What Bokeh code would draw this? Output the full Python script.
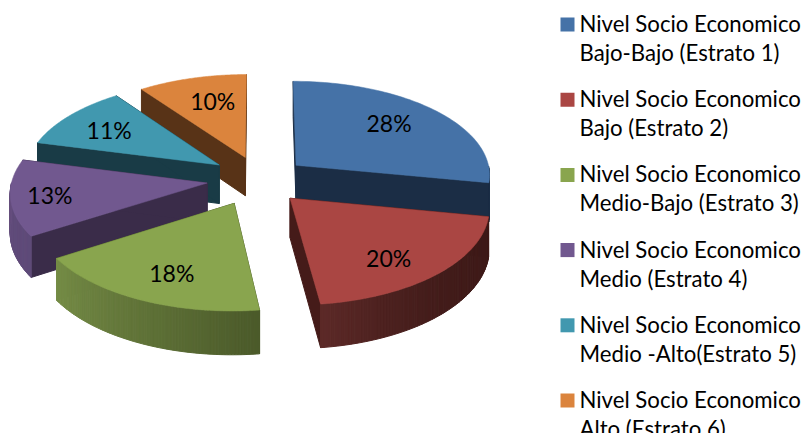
import numpy as np
from bokeh.plotting import figure
from bokeh.core.properties import value
from bokeh.embed import file_html
from bokeh.resources import INLINE

# Share of households per socio-economic stratum
categories = [
    ["Nivel Socio Economico", "Bajo-Bajo (Estrato 1)"],
    ["Nivel Socio Economico", "Bajo (Estrato 2)"],
    ["Nivel Socio Economico", "Medio-Bajo (Estrato 3)"],
    ["Nivel Socio Economico", "Medio (Estrato 4)"],
    ["Nivel Socio Economico", "Medio -Alto(Estrato 5)"],
    ["Nivel Socio Economico", "Alto (Estrato 6)"],
]
shares = [28, 20, 18, 13, 11, 10]
top_colors = ["#4572A7", "#AA4643", "#89A54E", "#71588F", "#4198AF", "#DB843D"]
cut_colors = ["#1B2D45", "#451B19", "#4B5A2B", "#3A2C49", "#193B46", "#583317"]
# Shading of the rim, from the slice's first angle to its last
rim_colors = [
    ("#1B2D45", "#1B2D45"),
    ("#3E1A18", "#5C2927"),
    ("#4B5A2A", "#758C46"),
    ("#5E4A78", "#66507F"),
    ("#193B46", "#193B46"),
    ("#583317", "#583317"),
]
RIM_EASE = [1, 2.5, 1, 1, 1, 1]
FONT = "Lato"

# Projection of the tilted disc
CX, CY = 255.0, 178.0
RX, RY = 195.0, 94.0
PERSP = 0.09
THICK = 39.0
EXPLODE = 0.24
DRAW_ORDER = [5, 4, 0, 3, 1, 2]
LABEL_RADIUS = 0.63
# Per-slice fine placement, in pixels
SLICE_DX = [5, 2, -1, -2, 2, 4]
SLICE_DY = [1, 3, 4, 1, -1, 0]
LABEL_DX = [4, 8, -5, -34, -14, 2]
LABEL_DY = [-7, 13, 11, 3, -3, -5]


def project(u, v, z=0.0):
    u, v = np.asarray(u, float), np.asarray(v, float)
    s = 1.0 / (1.0 + PERSP * v)
    return CX + RX * u * s, CY - RY * v * s + THICK * z * s


def hex_mix(a, b, t):
    ca = np.array([int(a[i:i + 2], 16) for i in (1, 3, 5)], float)
    cb = np.array([int(b[i:i + 2], 16) for i in (1, 3, 5)], float)
    c = ca + (cb - ca) * t
    return "#%02x%02x%02x" % tuple(int(round(x)) for x in c)


p = figure(width=807, height=433, x_range=(0, 807), y_range=(433, 0),
           output_backend="svg", toolbar_location=None, min_border=0,
           outline_line_color=None, background_fill_color="white")
p.xaxis.visible = False
p.yaxis.visible = False
p.xgrid.visible = False
p.ygrid.visible = False

edges = np.concatenate([[0], np.cumsum(shares)]) / float(sum(shares)) * 2 * np.pi
label_x, label_y, label_text = [], [], []

for i in DRAW_ORDER:
    a0, a1 = edges[i], edges[i + 1]
    mid = (a0 + a1) / 2
    ou, ov = EXPLODE * np.sin(mid), EXPLODE * np.cos(mid)
    angles = np.linspace(a0, a1, 80)
    au, av = ou + np.sin(angles), ov + np.cos(angles)
    dx, dy = SLICE_DX[i], SLICE_DY[i]

    # Straight cut faces running from the hub to each end of the arc
    for a in (a0, a1):
        eu, ev = ou + np.sin(a), ov + np.cos(a)
        us, vs = np.array([ou, eu, eu, ou]), np.array([ov, ev, ev, ov])
        x, y = project(us, vs, np.array([0, 0, 1, 1]))
        p.patch(list(x + dx), list(y + dy), fill_color=cut_colors[i], line_color=cut_colors[i], line_width=1)

    # Rim: short strips along the part of the arc that faces the viewer
    for k in range(len(angles) - 1):
        ta, tb = angles[k], angles[k + 1]
        if np.cos((ta + tb) / 2) >= 0:
            continue
        us = ou + np.sin([ta, tb, tb, ta])
        vs = ov + np.cos([ta, tb, tb, ta])
        x, y = project(us, vs, np.array([0, 0, 1, 1]))
        t = (k / (len(angles) - 2)) ** RIM_EASE[i]
        col = hex_mix(rim_colors[i][0], rim_colors[i][1], t)
        p.patch(list(x + dx), list(y + dy), fill_color=col, line_color=col, line_width=1)

    # Top face
    x, y = project(np.concatenate([[ou], au]), np.concatenate([[ov], av]))
    p.patch(list(x + dx), list(y + dy), fill_color=top_colors[i], line_color=top_colors[i], line_width=0.5)

    lx, ly = project(ou + LABEL_RADIUS * np.sin(mid), ov + LABEL_RADIUS * np.cos(mid))
    label_x.append(float(lx) + dx + LABEL_DX[i])
    label_y.append(float(ly) + dy + LABEL_DY[i])
    label_text.append(f"{shares[i]}%")

p.text(label_x, label_y, text=label_text, text_font=value(FONT), text_font_size="23px",
       text_color="#000000", text_align="center", text_baseline="middle")

# Legend column
LEG_X, LEG_TOP, LEG_STEP, LEG_BOX, LINE_STEP = 560, 17, 75.2, 14, 29.0
for i, lines in enumerate(categories):
    top = LEG_TOP + i * LEG_STEP
    p.quad(left=[LEG_X], right=[LEG_X + LEG_BOX], top=[top], bottom=[top + LEG_BOX],
           fill_color=top_colors[i], line_color=None)
    p.text([LEG_X + 19] * 2, [top + 6, top + 6 + LINE_STEP], text=lines,
           text_font=value(FONT), text_font_size="22.2px", text_color="#000000",
           text_align="left", text_baseline="middle")

open("out.html", "w").write(file_html(p, INLINE))
